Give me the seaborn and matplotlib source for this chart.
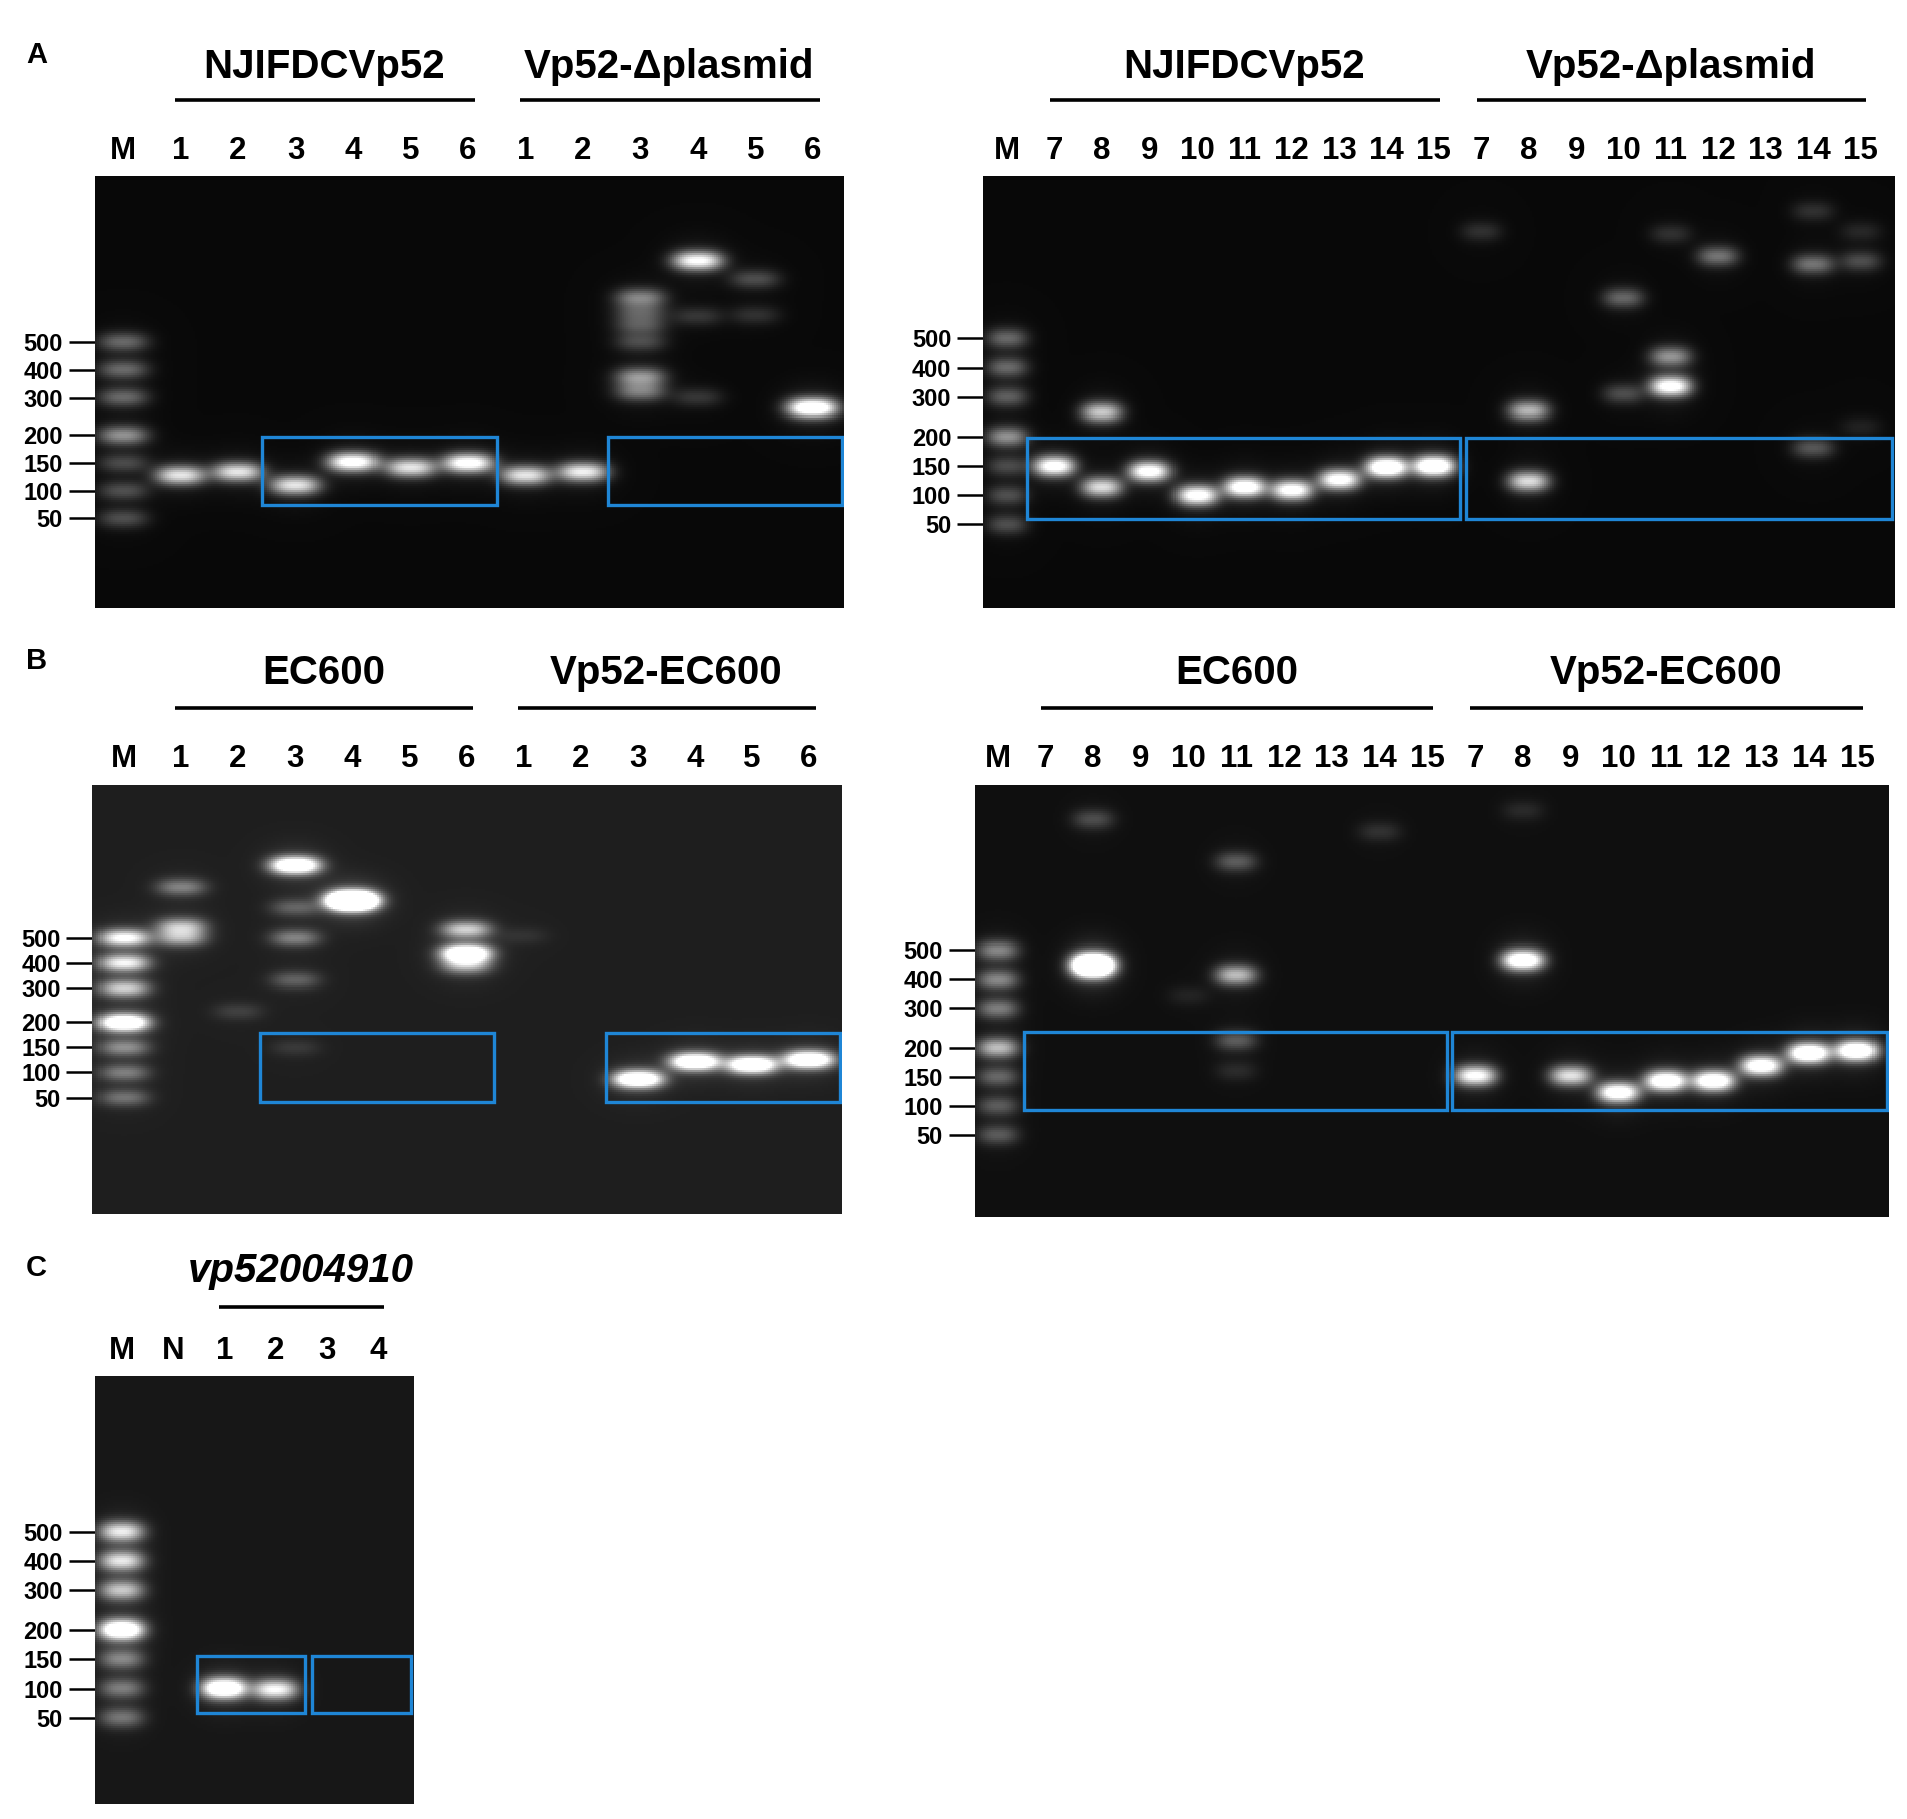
import numpy as np
import matplotlib
matplotlib.use("Agg")
import matplotlib.pyplot as plt
from matplotlib.patches import Rectangle
import seaborn as sns

sns.set_style("white")
plt.rcParams['font.family'] = ['Liberation Sans', 'DejaVu Sans']
plt.rcParams['text.color'] = 'black'
plt.rcParams['xtick.color'] = 'black'
plt.rcParams['ytick.color'] = 'black'

# reference layout is measured on a 1568 x 1495 grid
W_REF, H_REF = 1568, 1495
SCALE = 1908 / W_REF

# DNA ladder (bp) and its migration steps on the gel
LADDER_BP = [50, 100, 150, 200, 300, 400, 500]
LADDER_MOB = [0, 1, 2, 3, 4.35, 5.35, 6.35]

# ---- panel A, left gel (lanes 1-6) ----
A1_LANES = ["M", "1", "2", "3", "4", "5", "6", "1", "2", "3", "4", "5", "6"]
A1_GROUPS = [("NJIFDCVp52", 1, 6), ("Vp52-Δplasmid", 7, 12)]
A1_LADDER = [0.30, 0.30, 0.28, 0.50, 0.38, 0.38, 0.38]
A1_BAND_LANE = [1, 2, 3, 4, 5, 6, 7, 8, 9, 9, 9, 9, 9, 9, 10, 10, 10, 11, 11, 12]
A1_BAND_BP = [128, 134, 110, 152, 142, 150, 128, 134, 714, 635, 571, 500, 373, 320,
              962, 615, 300, 830, 620, 272]
A1_BAND_LEVEL = [0.72, 0.72, 0.72, 0.85, 0.72, 0.85, 0.72, 0.75, 0.45, 0.3, 0.3, 0.28,
                 0.5, 0.42, 0.8, 0.22, 0.22, 0.3, 0.2, 0.95]

# ---- panel A, right gel (lanes 7-15) ----
A2_LANES = ["M"] + [str(i) for i in range(7, 16)] * 2
A2_GROUPS = [("NJIFDCVp52", 1, 9), ("Vp52-Δplasmid", 10, 18)]
A2_LADDER = [0.30, 0.30, 0.28, 0.50, 0.35, 0.38, 0.38]
A2_BAND_LANE = [1, 2, 2, 3, 4, 5, 6, 7, 8, 9, 10, 11, 11, 13, 13, 14, 14, 14, 15,
                17, 17, 17, 18, 18, 18]
A2_BAND_BP = [150, 261, 114, 141, 100, 114, 109, 127, 148, 150, 1130, 265, 124, 680,
              310, 1110, 437, 335, 935, 1320, 880, 181, 1130, 900, 225]
A2_BAND_LEVEL = [0.85, 0.65, 0.7, 0.85, 0.85, 0.9, 0.85, 0.85, 1.0, 1.0, 0.2, 0.6,
                 0.7, 0.38, 0.3, 0.2, 0.5, 0.85, 0.42, 0.2, 0.42, 0.33, 0.16, 0.3, 0.14]

# ---- panel B, left gel ----
B1_LANES = ["M", "1", "2", "3", "4", "5", "6", "1", "2", "3", "4", "5", "6"]
B1_GROUPS = [("EC600", 1, 6), ("Vp52-EC600", 7, 12)]
B1_LADDER = [0.35, 0.38, 0.42, 1.0, 0.6, 0.7, 0.75]
B1_BAND_LANE = [1, 1, 1, 2, 3, 3, 3, 3, 3, 4, 4, 6, 6, 6, 7, 9, 10, 11, 12]
B1_BAND_BP = [786, 553, 500, 233, 955, 656, 500, 333, 150, 709, 685, 539, 438, 390,
              510, 87, 122, 116, 126]
B1_BAND_LEVEL = [0.4, 0.55, 0.5, 0.18, 1.0, 0.3, 0.4, 0.3, 0.15, 1.0, 1.0, 0.6, 1.0,
                 0.5, 0.12, 1.0, 1.0, 1.0, 1.0]

# ---- panel B, right gel ----
B2_LANES = ["M"] + [str(i) for i in range(7, 16)] * 2
B2_GROUPS = [("EC600", 1, 9), ("Vp52-EC600", 10, 18)]
B2_LADDER = [0.32, 0.32, 0.35, 0.6, 0.42, 0.45, 0.45]
B2_BAND_LANE = [2, 2, 2, 4, 5, 5, 5, 5, 8, 10, 11, 11, 12, 13, 14, 15, 16, 17, 18]
B2_BAND_BP = [1365, 440, 460, 345, 985, 416, 219, 160, 1240, 152, 1460, 467, 152, 123,
              143, 143, 169, 191, 195]
B2_BAND_LEVEL = [0.28, 1.0, 0.9, 0.12, 0.33, 0.6, 0.33, 0.15, 0.18, 0.8, 0.15, 0.95,
                 0.7, 0.9, 0.95, 0.95, 0.9, 1.0, 1.0]

# ---- panel C ----
C_LANES = ["M", "N", "1", "2", "3", "4"]
C_GROUPS = [("vp52004910", 2, 5)]
C_LADDER = [0.38, 0.40, 0.42, 1.0, 0.6, 0.68, 0.7]
C_BAND_LANE = [2, 3]
C_BAND_BP = [100, 98]
C_BAND_LEVEL = [1.0, 0.75]


def mobility(bp):
    bp = np.asarray(bp, dtype=float)
    inside = np.interp(bp, LADDER_BP, LADDER_MOB)
    above = LADDER_MOB[-1] + np.log(np.maximum(bp, 1) / 500) / np.log(1.25)
    below = (bp - 50) / 50
    return np.where(bp > 500, above, np.where(bp < 50, below, inside))


gels = [
    dict(rect=(78, 145, 694, 500), xlim=(-0.49, 12.55), ylim=(-3.24, 12.31),
         lanes=A1_LANES, groups=A1_GROUPS, ladder=A1_LADDER, lane_of=A1_BAND_LANE,
         bp=A1_BAND_BP, level=A1_BAND_LEVEL, bg=0.035, head=(90, 63),
         boxes=[(2.41, 6.50, 196, 74), (8.44, 12.51, 196, 74)]),
    dict(rect=(808, 145, 1557, 500), xlim=(-0.51, 18.72), ylim=(-2.86, 11.87),
         lanes=A2_LANES, groups=A2_GROUPS, ladder=A2_LADDER, lane_of=A2_BAND_LANE,
         bp=A2_BAND_BP, level=A2_BAND_LEVEL, bg=0.035, head=(90, 63),
         boxes=[(0.41, 9.55, 197, 60), (9.68, 18.67, 197, 60)]),
    dict(rect=(76, 645, 692, 998), xlim=(-0.55, 12.58), ylim=(-4.65, 12.46),
         lanes=B1_LANES, groups=B1_GROUPS, ladder=B1_LADDER, lane_of=B1_BAND_LANE,
         bp=B1_BAND_BP, level=B1_BAND_LEVEL, bg=0.12, head=(92, 63),
         boxes=[(2.39, 6.48, 178, 42), (8.44, 12.54, 178, 42)]),
    dict(rect=(801, 645, 1552, 1000), xlim=(-0.48, 18.66), ylim=(-2.80, 12.03),
         lanes=B2_LANES, groups=B2_GROUPS, ladder=B2_LADDER, lane_of=B2_BAND_LANE,
         bp=B2_BAND_BP, level=B2_BAND_LEVEL, bg=0.06, head=(92, 63),
         boxes=[(0.56, 9.41, 241, 94), (9.52, 18.62, 241, 94)]),
    dict(rect=(78, 1131, 340, 1483), xlim=(-0.52, 5.69), ylim=(-2.95, 11.66),
         lanes=C_LANES, groups=C_GROUPS, ladder=C_LADDER, lane_of=C_BAND_LANE,
         bp=C_BAND_BP, level=C_BAND_LEVEL, bg=0.09, head=(86, 57), italic=True,
         boxes=[(1.47, 3.58, 156, 58), (3.70, 5.64, 156, 58)]),
]

fig = plt.figure(figsize=(19.08, 18.19), dpi=100)
fig.patch.set_facecolor("white")

for g in gels:
    x0, y0, x1, y1 = g["rect"]
    ax = fig.add_axes([x0 / W_REF, 1 - y1 / H_REF, (x1 - x0) / W_REF, (y1 - y0) / H_REF])
    h_ref = y1 - y0
    nx = int((x1 - x0) * SCALE / 2)
    ny = int((y1 - y0) * SCALE / 2)
    xl0, xl1 = g["xlim"]
    yl0, yl1 = g["ylim"]
    xs = xl0 + (np.arange(nx) + 0.5) * (xl1 - xl0) / nx
    ys = yl1 - (np.arange(ny) + 0.5) * (yl1 - yl0) / ny
    X, Y = np.meshgrid(xs, ys)

    lanes_all = [0] * len(LADDER_BP) + list(g["lane_of"])
    bps_all = list(LADDER_BP) + list(g["bp"])
    lev_all = list(g["ladder"]) + list(g["level"])

    img = np.full(X.shape, g["bg"])
    for lane, bp, lev in zip(lanes_all, bps_all, lev_all):
        u = mobility(bp)
        eff = lev ** 1.35
        px = np.exp(-(np.abs(X - lane) / 0.43) ** 2.6)
        py = np.exp(-0.5 * ((Y - u) / 0.24) ** 2)
        glow = np.exp(-0.5 * ((Y - u) / 0.6) ** 2) * np.exp(-((X - lane) / 0.55) ** 2)
        img += eff * (1.25 * px * py + 0.1 * glow)
    img = np.clip(img, 0, 1)

    sns.heatmap(img, ax=ax, cmap="gray", vmin=0, vmax=1, cbar=False,
                xticklabels=False, yticklabels=False, rasterized=True)

    def col(v):
        return (v - xl0) / (xl1 - xl0) * nx

    def row(u):
        return (yl1 - u) / (yl1 - yl0) * ny

    # lane labels on top
    ax.xaxis.tick_top()
    ax.set_xticks([col(i) for i in range(len(g["lanes"]))])
    ax.set_xticklabels(g["lanes"], fontsize=22.5, fontweight="bold", rotation=0,
                       color="black")
    ax.tick_params(axis="x", top=True, bottom=False, length=0, pad=7.5)

    # ladder sizes on the left
    ax.set_yticks([row(m) for m in LADDER_MOB])
    ax.set_yticklabels([str(b) for b in LADDER_BP], fontsize=17, fontweight="bold",
                       rotation=0, color="black")
    ax.tick_params(axis="y", left=True, length=19, width=1.8, color="black", pad=4)

    # group titles with underline
    trans = ax.get_xaxis_transform()
    t_off, l_off = g["head"]
    for title, a, b in g["groups"]:
        ax.plot([col(a - 0.1), col(b + 0.12)], [1 + l_off / h_ref] * 2, transform=trans,
                color="black", lw=2.6, clip_on=False, solid_capstyle="butt")
        ax.text(col((a + b) / 2), 1 + t_off / h_ref, title, transform=trans,
                ha="center", va="center", fontsize=29, fontweight="bold",
                color="black", style="italic" if g.get("italic") else "normal")

    # blue highlight boxes
    for bx0, bx1, top_bp, bot_bp in g["boxes"]:
        r_top = row(mobility(top_bp))
        r_bot = row(mobility(bot_bp))
        ax.add_patch(Rectangle((col(bx0), r_top), col(bx1) - col(bx0), r_bot - r_top,
                               fill=False, edgecolor="#1f86d6", lw=2.4))

for letter, yy in [("A", 45), ("B", 543), ("C", 1042)]:
    fig.text(30 / W_REF, 1 - yy / H_REF, letter, fontsize=21, fontweight="bold",
             ha="center", va="center", color="black")

fig.savefig("out.png", dpi=100, facecolor="white")
